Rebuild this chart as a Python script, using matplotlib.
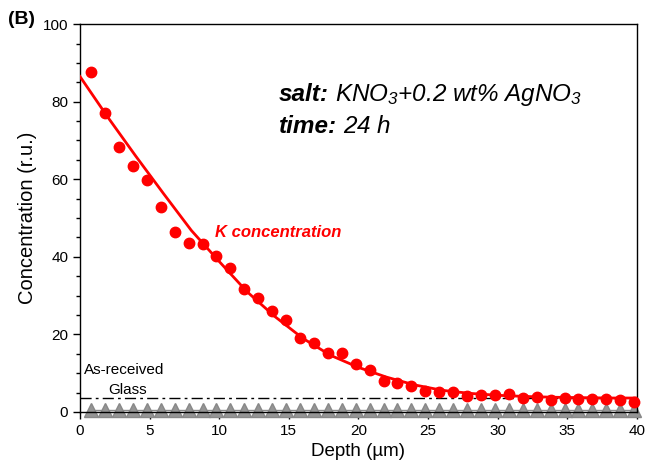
import numpy as np
import matplotlib
matplotlib.use('Agg')
import matplotlib.pyplot as plt

plt.rcParams['font.family'] = ['Liberation Sans', 'DejaVu Sans']
plt.rcParams['mathtext.fontset'] = 'custom'
plt.rcParams['mathtext.rm'] = 'Liberation Sans:italic'
plt.rcParams['mathtext.it'] = 'Liberation Sans:italic'
plt.rcParams['mathtext.bf'] = 'Liberation Sans:italic:bold'

# measured K concentration vs depth
depth = [0.8, 1.8, 2.8, 3.8, 4.8, 5.8, 6.8, 7.8, 8.8, 9.8,
         10.8, 11.8, 12.8, 13.8, 14.8, 15.8, 16.8, 17.8, 18.8, 19.8,
         20.8, 21.8, 22.8, 23.8, 24.8, 25.8, 26.8, 27.8, 28.8, 29.8,
         30.8, 31.8, 32.8, 33.8, 34.8, 35.8, 36.8, 37.8, 38.8, 39.8]
k_conc = [87.7, 77.0, 68.4, 63.5, 59.8, 52.9, 46.3, 43.5, 43.2, 40.1,
          37.2, 31.8, 29.3, 26.1, 23.7, 19.2, 17.9, 15.3, 15.1, 12.3,
          10.7, 8.1, 7.4, 6.8, 5.5, 5.2, 5.2, 4.1, 4.4, 4.4,
          4.6, 3.7, 3.9, 3.1, 3.5, 3.3, 3.3, 3.3, 3.1, 2.7]

# fitted curve
fit_x = [0, 2, 4, 6, 8, 10, 12, 14, 16, 18, 20,
         22, 24, 26, 28, 30, 32, 34, 36, 38, 40]
fit_y = [86.5, 76.0, 66.0, 56.3, 46.8, 38.8, 31.0, 24.6, 19.0, 14.6, 11.5,
         9.0, 7.0, 5.6, 4.8, 4.3, 4.0, 3.8, 3.7, 3.6, 3.6]

# reference glass (gray triangles) and as-received level
glass_y = [0.6] * len(depth)
as_received = 3.5

fig = plt.figure(figsize=(6.46, 4.73), dpi=100)
ax = fig.add_axes([0.1238, 0.129, 0.8622, 0.82])

ax.plot(depth, glass_y, color='#8c8c8c', lw=1, marker='^', ms=10,
        mec='#888888', mfc='#959595', zorder=2, clip_on=False)
ax.axhline(as_received, color='black', lw=1, ls=(0, (8, 3, 2, 3)), zorder=2)
ax.plot(fit_x, fit_y, color='#ff0000', lw=2, zorder=3)
ax.plot(depth, k_conc, 'o', color='#ff0000', ms=7.5, mec='#ff0000', zorder=4,
        clip_on=False)

ax.set_xlim(0, 40)
ax.set_ylim(0, 100)
ax.set_xticks(range(0, 41, 5))
ax.set_xticks(range(0, 41, 1), minor=True)
ax.set_yticks(range(0, 101, 20))
ax.set_yticks(range(0, 101, 5), minor=True)
ax.tick_params(which='major', direction='out', length=5, width=1, labelsize=11)
ax.tick_params(which='minor', direction='out', length=3, width=1)
for s in ax.spines.values():
    s.set_linewidth(1)

ax.set_xlabel('Depth (µm)', fontsize=13.5)
ax.set_ylabel('Concentration (r.u.)', fontsize=14.5)

# bold-italic key followed by italic value, on one baseline
fig.canvas.draw()
inv = ax.transData.inverted()
for y, key, val in [(80.3, 'salt:', r'$KNO_3{+}0.2\ wt\%\ AgNO_3$'),
                    (72.0, 'time:', r'$24\ h$')]:
    t = ax.text(14.3, y, key, fontsize=17.5, fontweight='bold',
                fontstyle='italic', va='baseline')
    bb = t.get_window_extent(renderer=fig.canvas.get_renderer())
    x1 = inv.transform((bb.x1 + 6, bb.y0))[0]
    ax.text(x1, y, val, fontsize=17.5, va='baseline')

ax.text(9.7, 46.4, 'K concentration', color='#ff0000', fontsize=12,
        fontweight='bold', fontstyle='italic', va='center')
ax.text(0.3, 10.8, 'As-received', fontsize=11, va='center')
ax.text(2.0, 5.7, 'Glass', fontsize=11, va='center')

fig.text(0.012, 0.958, '(B)', fontsize=14, fontweight='bold', va='center')

fig.savefig('out.png', dpi=100)
